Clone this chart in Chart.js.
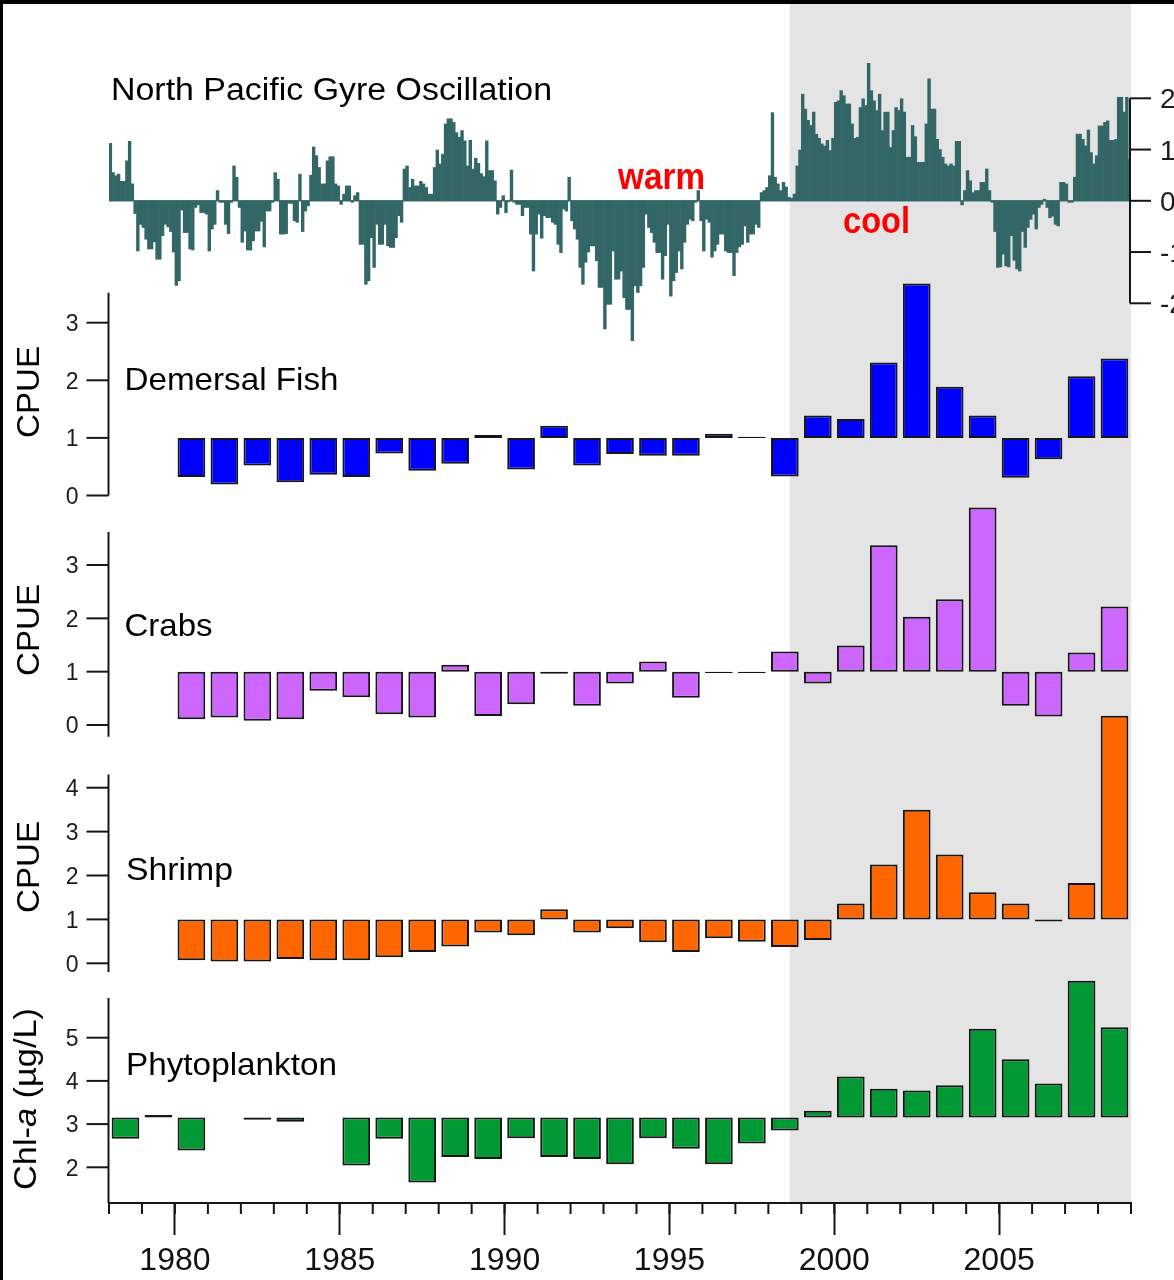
<!DOCTYPE html>
<html>
<head>
<meta charset="utf-8">
<title>North Pacific Gyre Oscillation and Gulf of Alaska catches</title>
<script src="https://cdn.jsdelivr.net/npm/chart.js@4.4.1/dist/chart.umd.min.js"></script>
<style>
  html, body { margin: 0; padding: 0; background: #fff; }
  canvas { display: block; }
</style>
</head>
<body>
<canvas id="fig" width="1174" height="1280"></canvas>
<script>
// ---------------- data ----------------
const firstYear = 1978;
const lastYear = 2009;
const coolRegimeStart = 1998.65;

// NPGO index, monthly from January 1978
const npgoStartYear = 1978;
const npgoMonthly = [
  1.12, 0.55, 0.49, 0.52, 0.38, 0.38, 0.78, 1.16, 0.33, -0.25, -0.98, -0.46,     // 1978
  -0.52, -0.75, -0.94, -0.94, -0.80, -1.14, -1.14, -0.68, -0.46, -0.51, -0.60, -1.00, // 1979
  -1.65, -1.56, -0.18, -0.62, -0.62, -0.94, -0.96, -0.13, -0.08, -0.23, -0.23, -0.26, // 1980
  -0.98, -0.55, -0.46, 0.20, -0.03, -0.03, -0.46, -0.64, -0.03, 0.68, 0.46, -0.13,   // 1981
  -0.81, -0.59, -0.96, -0.96, -0.78, -0.59, -0.59, -0.40, -0.90, -0.20, -0.20, -0.03, // 1982
  0.55, 0.42, -0.65, -0.65, -0.64, -0.05, -0.05, -0.39, -0.42, 0.52, -0.60, -0.20,   // 1983
  -0.10, 0.50, 1.05, 0.88, 0.65, 0.33, 0.33, 0.78, 0.86, 0.86, 0.33, 0.29,         // 1984
  -0.07, 0.13, 0.29, 0.29, -0.03, 0.10, 0.16, -0.85, -0.85, -1.63, -1.56, -0.72,    // 1985
  -1.30, -0.46, -0.85, -0.85, -0.46, -0.88, -0.91, -0.91, -0.72, -0.29, -0.42, 0.62, // 1986
  0.68, 0.26, 0.42, 0.29, 0.29, 0.38, 0.33, 0.26, 0.13, 0.13, 0.65, 0.99,          // 1987
  0.72, 0.91, 1.50, 1.60, 1.60, 1.53, 1.33, 1.24, 1.37, 1.17, 0.68, 1.18,          // 1988
  0.62, 0.83, 0.73, 0.53, 0.47, 1.17, 0.59, 0.59, 0.39, -0.26, -0.13, 0.10,        // 1989
  -0.23, -0.02, 0.60, -0.03, -0.07, -0.07, -0.29, -0.13, -0.13, -0.65, -1.37, -0.65, // 1990
  -0.26, -0.73, -0.29, -0.33, -0.33, -0.42, -0.46, -0.85, -1.01, -0.16, -0.20, 0.46, // 1991
  -0.39, -0.55, -0.75, -1.30, -1.63, -1.20, -1.00, -0.88, -0.88, -1.17, -1.69, -1.69, // 1992
  -2.50, -2.02, -2.02, -0.98, -1.53, -1.53, -1.37, -1.89, -2.12, -2.12, -2.73, -1.66, // 1993
  -1.79, -1.66, -1.30, -0.26, -0.52, -0.62, -0.81, -1.01, -1.01, -1.53, -1.07, -0.46, // 1994
  -1.86, -1.56, -1.40, -0.98, -1.33, -0.81, -0.46, -0.36, -0.39, -0.03, 0.20, -0.39, // 1995
  -0.98, -0.36, -0.42, -1.10, -0.98, -0.85, -0.65, -0.65, -0.98, -1.01, -1.01, -1.46, // 1996
  -1.01, -0.90, -0.85, -0.49, -0.81, -0.65, -0.65, -0.46, -0.52, 0.16, 0.20, 0.26,  // 1997
  0.49, 1.72, 0.46, 0.33, 0.20, 0.36, 0.27, 0.07, 0.05, 0.13, 0.68, 0.99,          // 1998
  2.08, 1.79, 1.57, 1.47, 1.73, 1.30, 1.22, 1.11, 1.07, 1.18, 0.98, 1.22,          // 1999
  1.92, 1.95, 2.15, 2.05, 1.89, 1.89, 1.50, 1.22, 1.24, 1.82, 1.99, 1.86,          // 2000
  2.68, 2.15, 1.95, 1.76, 2.08, 1.37, 1.73, 1.73, 1.04, 1.37, 1.82, 1.76,          // 2001
  1.99, 1.73, 0.85, 0.85, 1.47, 1.25, 0.75, 0.75, 0.75, 1.50, 2.38, 1.79,          // 2002
  1.79, 1.20, 1.00, 0.85, 0.72, 0.68, 0.72, 0.68, 1.16, 1.16, -0.08, 0.20,         // 2003
  0.59, 0.39, 0.16, 0.20, 0.20, 0.36, 0.36, 0.62, 0.20, -0.03, -0.60, -1.30,       // 2004
  -1.29, -1.04, -1.27, -1.29, -0.68, -1.16, -1.33, -1.37, -0.60, -0.91, -0.52, -0.36, // 2005
  -0.26, -0.55, -0.13, -0.07, 0.03, -0.13, -0.33, -0.30, -0.46, -0.49, 0.36, 0.36,  // 2006
  0.33, -0.03, -0.03, 0.46, 1.30, 1.30, 1.20, 1.07, 1.38, 0.94, 0.72, 0.88,        // 2007
  1.46, 1.46, 1.53, 1.56, 1.18, 1.18, 1.20, 2.02, 2.02, 1.73, 2.02, 0.81           // 2008
];

// trawl survey years and CPUE (relative to the long-term mean of 1)
const surveyYears = [1980, 1981, 1982, 1983, 1984, 1985, 1986, 1987, 1988, 1989,
                     1990, 1991, 1992, 1993, 1994, 1995, 1996, 1997, 1998, 1999,
                     2000, 2001, 2002, 2003, 2004, 2005, 2006, 2007, 2008];
const demersalCpue = [0.32, 0.19, 0.52, 0.23, 0.36, 0.32, 0.73, 0.43, 0.55, 1.05,
                      0.45, 1.21, 0.52, 0.72, 0.69, 0.69, 1.07, 1.02, 0.33, 1.39,
                      1.33, 2.31, 3.68, 1.89, 1.39, 0.31, 0.63, 2.07, 2.38];
const crabCpue     = [0.11, 0.14, 0.08, 0.11, 0.64, 0.52, 0.20, 0.14, 1.13, 0.17,
                      0.39, 0.96, 0.36, 0.78, 1.19, 0.51, 0.975, 0.975, 1.38, 0.78,
                      1.49, 3.37, 2.03, 2.36, 4.08, 0.36, 0.16, 1.36, 2.22];
const shrimpCpue   = [0.07, 0.04, 0.04, 0.10, 0.07, 0.07, 0.14, 0.26, 0.38, 0.70,
                      0.64, 1.23, 0.70, 0.80, 0.48, 0.26, 0.57, 0.49, 0.37, 0.53,
                      1.36, 2.25, 3.50, 2.48, 1.62, 1.36, 0.95, 1.83, 5.64];
const cpueBase = 1;

// chlorophyll-a (µg/L), with the long-term mean as the bar base
const chlYears = [1978, 1979, 1980, 1981, 1982, 1983, 1984, 1985, 1986, 1987,
                  1988, 1989, 1990, 1991, 1992, 1993, 1994, 1995, 1996, 1997,
                  1998, 1999, 2000, 2001, 2002, 2003, 2004, 2005, 2006, 2007, 2008];
const chlA = [2.66, 3.21, 2.39, null, 3.10, 3.055, null, 2.04, 2.66, 1.65,
              2.24, 2.19, 2.67, 2.24, 2.19, 2.07, 2.67, 2.43, 2.07, 2.55,
              2.85, 3.31, 4.10, 3.82, 3.78, 3.90, 5.21, 4.50, 3.94, 6.32, 5.24];
const chlBase = 3.15;

// tick labels
const npgoTicks = [-2, -1, 0, 1, 2];
const cpueTicks = [0, 1, 2, 3];
const shrimpTicks = [0, 1, 2, 3, 4];
const chlTicks = [2, 3, 4, 5];

// ---------------- layout ----------------
const FONT = "'Liberation Sans', Arial, Helvetica, sans-serif";
const PLOT_TOP = 4, PLOT_BOTTOM = 1203;     // chart area, px
// each panel: pixel row of value 0 and pixels per unit
function panelRange(zeroPx, unitPx) {
  return { min: (zeroPx - PLOT_BOTTOM) / unitPx, max: (zeroPx - PLOT_TOP) / unitPx };
}
const AXIS_COLOR = '#161616';
const BAR_EDGE = '#161616';

function yScale(range) {
  return Object.assign({ type: 'linear', display: false, bounds: 'data' }, range);
}

function yearBars(label, years, values, axis, base, color) {
  return {
    label, type: 'bar', xAxisID: 'x', yAxisID: axis,
    data: years.map((yr, i) => ({ x: yr + 0.5, y: values[i] })),
    base,
    backgroundColor: color, borderColor: BAR_EDGE, borderWidth: 2, borderSkipped: false,
    barPercentage: 0.84, categoryPercentage: 1, grouped: false
  };
}

// rich text: parts drawn in a row, optionally squeezed to a width and rotated
function drawRich(ctx, parts, x, y, o) {
  ctx.save();
  const fontFor = p => `${p.italic ? 'italic ' : ''}${o.bold ? 'bold ' : ''}${o.size}px ${FONT}`;
  let w = 0;
  const widths = parts.map(p => { ctx.font = fontFor(p); const m = ctx.measureText(p.t).width; w += m; return m; });
  const sx = o.width ? o.width / w : 1;
  const sy = o.sy || 1;
  const drawW = w * sx;
  ctx.translate(x, y);
  if (o.rotate) ctx.rotate(o.rotate);
  let off = 0;
  if (o.align === 'right') off = -drawW; else if (o.align === 'center') off = -drawW / 2;
  ctx.translate(off, 0);
  ctx.scale(sx, sy);
  ctx.fillStyle = o.color || '#000';
  ctx.textAlign = 'left';
  ctx.textBaseline = 'alphabetic';
  let cx = 0;
  parts.forEach((p, i) => { ctx.font = fontFor(p); ctx.fillText(p.t, cx, 0); cx += widths[i]; });
  ctx.restore();
}
function drawText(ctx, str, x, y, o) { drawRich(ctx, [{ t: str }], x, y, o); }

function seg(ctx, x0, y0, x1, y1) { ctx.beginPath(); ctx.moveTo(x0, y0); ctx.lineTo(x1, y1); ctx.stroke(); }

// left-hand value axis of one panel
function leftAxis(ctx, scale, x, spec) {
  const TICK = 22, SIZE = 23;
  ctx.save();
  ctx.strokeStyle = AXIS_COLOR; ctx.lineWidth = 2; ctx.lineCap = 'butt';
  seg(ctx, x, scale.getPixelForValue(spec.to), x, scale.getPixelForValue(spec.from));
  spec.ticks.forEach(t => {
    const py = scale.getPixelForValue(t);
    seg(ctx, x - TICK, py, x, py);
    drawText(ctx, String(t), x - TICK - 8, py + 0.358 * SIZE, { size: SIZE, align: 'right', color: '#1c1c1c' });
  });
  ctx.restore();
}

const figurePlugin = {
  id: 'figureDecor',
  beforeDraw(chart) {
    const { ctx, chartArea: ca, scales } = chart;
    ctx.save();
    ctx.fillStyle = '#ffffff';
    ctx.fillRect(0, 0, chart.width, chart.height);
    // cool-regime period
    const x0 = scales.x.getPixelForValue(coolRegimeStart);
    const x1 = scales.x.getPixelForValue(lastYear);
    ctx.fillStyle = '#e4e4e4';
    ctx.fillRect(x0, ca.top, x1 - x0, ca.bottom - ca.top);
    // frame edges
    ctx.fillStyle = '#000';
    ctx.fillRect(0, 0, chart.width, 4);
    ctx.fillRect(0, 0, 3, chart.height);
    ctx.restore();
  },
  beforeDatasetsDraw(chart) {
    const { ctx, chartArea: ca, scales } = chart;
    const y0 = scales.yN.getPixelForValue(0);
    ctx.save();
    ctx.strokeStyle = '#5e8787'; ctx.lineWidth = 1.5;
    seg(ctx, ca.left, y0, ca.right, y0);
    ctx.restore();
  },
  afterDraw(chart) {
    const { ctx, chartArea: ca, scales } = chart;
    const xs = scales.x;
    const axisX = ca.left - 0.5;

    // minor year ticks on the time axis
    ctx.save();
    ctx.strokeStyle = AXIS_COLOR; ctx.lineWidth = 2;
    for (let yr = firstYear; yr <= lastYear; yr++) {
      const px = xs.getPixelForValue(yr);
      seg(ctx, px, ca.bottom, px, ca.bottom + 11);
    }
    ctx.restore();

    // panel axes
    leftAxis(ctx, scales.yD, axisX, { from: 0, to: 3.52, ticks: cpueTicks });
    leftAxis(ctx, scales.yC, axisX, { from: -0.22, to: 3.62, ticks: cpueTicks });
    leftAxis(ctx, scales.yS, axisX, { from: -0.2, to: 4.3, ticks: shrimpTicks });
    leftAxis(ctx, scales.yP, axisX, { from: scales.yP.min, to: 5.92, ticks: chlTicks });

    // NPGO axis on the right
    const yN = scales.yN, rx = ca.right - 1;
    ctx.save();
    ctx.strokeStyle = AXIS_COLOR; ctx.lineWidth = 2;
    seg(ctx, rx, yN.getPixelForValue(2), rx, yN.getPixelForValue(-2));
    npgoTicks.forEach(t => {
      const py = yN.getPixelForValue(t);
      seg(ctx, rx, py, rx + 21, py);
      drawText(ctx, String(t), rx + 30, py + 0.358 * 28, { size: 28, color: '#1c1c1c' });
    });
    ctx.restore();

    // titles and panel names
    drawText(ctx, 'North Pacific Gyre Oscillation', 111, 99.5, { size: 31, width: 441 });
    drawText(ctx, 'warm', 618, 188.5, { size: 34, bold: true, width: 87, sy: 1.1, color: '#ff0000' });
    drawText(ctx, 'cool', 843, 232.5, { size: 34, bold: true, width: 67, sy: 1.1, color: '#ff0000' });
    drawText(ctx, 'Demersal Fish', 124.5, 390, { size: 32, width: 214 });
    drawText(ctx, 'Crabs', 124.5, 636, { size: 32, width: 88 });
    drawText(ctx, 'Shrimp', 126, 880, { size: 32, width: 107 });
    drawText(ctx, 'Phytoplankton', 126, 1075, { size: 32, width: 211 });

    const up = -Math.PI / 2;
    drawText(ctx, 'CPUE', 38.5, 392, { size: 31, rotate: up, align: 'center', width: 92 });
    drawText(ctx, 'CPUE', 38.5, 630, { size: 31, rotate: up, align: 'center', width: 92 });
    drawText(ctx, 'CPUE', 38.5, 867, { size: 31, rotate: up, align: 'center', width: 92 });
    drawRich(ctx, [{ t: 'Chl-' }, { t: 'a', italic: true }, { t: ' (µg/L)' }], 36, 1099,
             { size: 31, rotate: up, align: 'center', width: 182 });
  }
};

// ---------------- chart ----------------
const datasets = [
  {
    label: 'NPGO', type: 'bar', xAxisID: 'xm', yAxisID: 'yN',
    data: npgoMonthly.map((v, i) => ({ x: npgoStartYear + (i + 0.5) / 12, y: v })),
    base: 0,
    backgroundColor: '#336666', borderWidth: 0,
    barPercentage: 1, categoryPercentage: 1, grouped: false
  },
  yearBars('Demersal Fish', surveyYears, demersalCpue, 'yD', cpueBase, '#0000ff'),
  yearBars('Crabs', surveyYears, crabCpue, 'yC', cpueBase, '#cc66ff'),
  yearBars('Shrimp', surveyYears, shrimpCpue, 'yS', cpueBase, '#ff6600'),
  yearBars('Phytoplankton', chlYears, chlA, 'yP', chlBase, '#009933')
];

new Chart(document.getElementById('fig'), {
  type: 'bar',
  data: { datasets },
  options: {
    responsive: false,
    animation: false,
    devicePixelRatio: 1,
    events: [],
    layout: { padding: { left: 109, right: 43, top: PLOT_TOP, bottom: 0 } },
    plugins: { legend: { display: false }, tooltip: { enabled: false } },
    scales: {
      x: {
        type: 'linear', position: 'bottom', min: firstYear, max: lastYear, bounds: 'data',
        offset: false,
        afterFit: s => { s.height = 1280 - PLOT_BOTTOM; },
        grid: {
          offset: false, drawOnChartArea: false, tickLength: 32, tickWidth: 2,
          tickColor: c => (c.tick && c.tick.value % 5 === 0) ? AXIS_COLOR : 'rgba(0,0,0,0)'
        },
        border: { display: true, color: AXIS_COLOR, width: 2 },
        ticks: {
          stepSize: 1, autoSkip: false, maxRotation: 0, minRotation: 0, padding: 7,
          color: '#111', font: { family: FONT, size: 32 },
          callback: v => (v % 5 === 0 ? String(v) : '')
        }
      },
      xm: {
        type: 'linear', display: false, min: firstYear, max: lastYear, bounds: 'data',
        offset: false, grid: { offset: false }
      },
      yN: yScale(panelRange(200.8, 51.25)),
      yD: yScale(panelRange(495.5, 57.6)),
      yC: yScale(panelRange(725, 53.33)),
      yS: yScale(panelRange(963.3, 43.9)),
      yP: yScale(panelRange(1253.7, 43.2))
    }
  },
  plugins: [figurePlugin]
});
</script>
</body>
</html>
